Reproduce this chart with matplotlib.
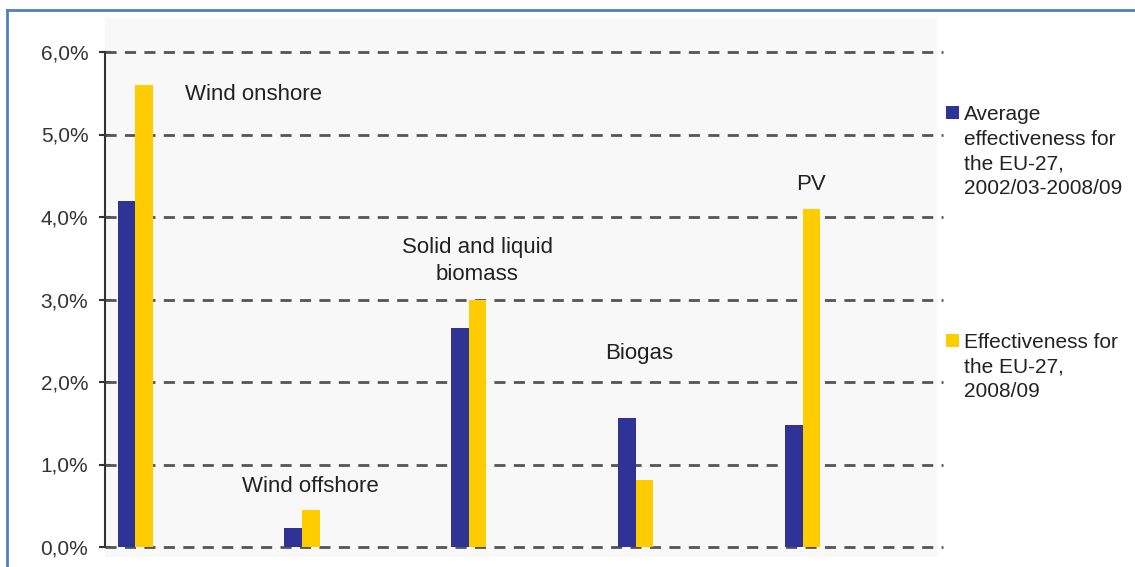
import numpy as np
import matplotlib.pyplot as plt
from matplotlib.patches import Rectangle

plt.rcParams['font.family'] = ['Liberation Sans', 'DejaVu Sans']

categories = ['Wind onshore', 'Wind offshore', 'Solid and liquid\nbiomass', 'Biogas', 'PV']
avg_eff = [4.2, 0.23, 2.65, 1.56, 1.48]
eff_0809 = [5.6, 0.45, 3.0, 0.81, 4.1]
series_names = ['Average\neffectiveness for\nthe EU-27,\n2002/03-2008/09',
                'Effectiveness for\nthe EU-27,\n2008/09']
yticks = [0, 1, 2, 3, 4, 5, 6]
ytick_labels = ['0,0%', '1,0%', '2,0%', '3,0%', '4,0%', '5,0%', '6,0%']

# label anchor positions (data coords)
label_x = [0.30, 1.05, 2.05, 3.02, 4.05]
label_y = [5.48, 0.73, 3.47, 2.35, 4.39]
label_ha = ['left', 'center', 'center', 'center', 'center']

blue = '#2f3396'
yellow = '#ffcc00'

W, H = 1135, 567
fig = plt.figure(figsize=(W / 100, H / 100), dpi=100)

# light gray plot background
fig.patches.append(Rectangle((105 / W, 1 - 557 / H), (937 - 105) / W, (557 - 18) / H,
                             transform=fig.transFigure, facecolor='#f8f8f8',
                             edgecolor='none', zorder=-10))
# blue frame (top and left)
fig.add_artist(plt.Line2D([7 / W, 1], [1 - 10 / H, 1 - 10 / H], color='#4f81bd', lw=2))
fig.add_artist(plt.Line2D([7 / W, 7 / W], [0, 1 - 10 / H], color='#4f81bd', lw=2))

ax = fig.add_axes([105 / W, 20 / H, (943 - 105) / W, 495 / H])
ax.patch.set_alpha(0)

x = np.arange(len(categories))
bw = 0.105
ax.bar(x - bw / 2, avg_eff, bw, color=blue, zorder=3)
ax.bar(x + bw / 2, eff_0809, bw, color=yellow, zorder=3)

ax.set_xlim(-0.18, 4.84)
ax.set_ylim(0, 6)
ax.set_yticks(yticks)
ax.set_yticklabels(ytick_labels, fontsize=15, color='#333333')
ax.set_xticks([])
for v in yticks:
    ax.axhline(v, color='#555555', lw=2, dashes=(4, 3), zorder=2, clip_on=False)

for s in ['top', 'right', 'bottom']:
    ax.spines[s].set_visible(False)
ax.spines['left'].set_color('#333333')
ax.spines['left'].set_linewidth(1.5)
ax.spines['left'].set_zorder(4)
ax.tick_params(axis='y', direction='inout', length=8, width=1.5, color='#333333', pad=8)

for i, name in enumerate(categories):
    ax.text(label_x[i], label_y[i], name, ha=label_ha[i], va='center',
            fontsize=16, color='#222222', linespacing=1.4)

# legend
leg_top = [106, 334]
for k, (name, col) in enumerate(zip(series_names, [blue, yellow])):
    y0 = leg_top[k]
    fig.patches.append(Rectangle((946 / W, 1 - (y0 + 13) / H), 13 / W, 13 / H,
                                 transform=fig.transFigure, facecolor=col, edgecolor='none'))
    fig.text(964 / W, 1 - (y0 - 1) / H, name, ha='left', va='top', fontsize=15,
             color='#222222', linespacing=1.38)

plt.savefig('out.png', dpi=100)
